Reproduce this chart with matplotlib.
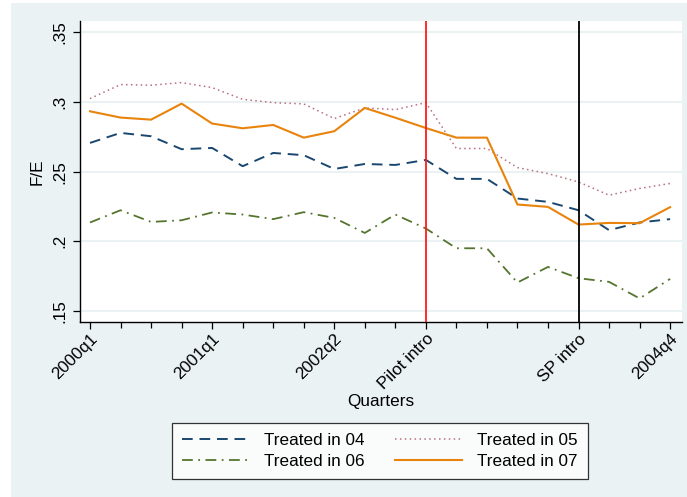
import numpy as np
import matplotlib
matplotlib.use('Agg')
import matplotlib.pyplot as plt
from matplotlib.patches import Rectangle

plt.rcParams['font.family'] = ['Liberation Sans', 'DejaVu Sans']

quarters = np.arange(20)
tick_pos = [0, 4, 8, 11, 16, 19]
tick_labels = ['2000q1', '2001q1', '2002q2', 'Pilot intro', 'SP intro', '2004q4']
pilot_q = 11
sp_q = 16

treated_04 = [0.2706, 0.2778, 0.2754, 0.2661, 0.2670, 0.2539, 0.2634, 0.2618, 0.2519, 0.2555,
              0.2548, 0.2584, 0.2448, 0.2448, 0.2307, 0.2283, 0.2223, 0.2080, 0.2135, 0.2159]
treated_05 = [0.3024, 0.3125, 0.3120, 0.3139, 0.3103, 0.3019, 0.2995, 0.2986, 0.2881, 0.2957,
              0.2945, 0.2995, 0.2666, 0.2666, 0.2529, 0.2486, 0.2426, 0.2331, 0.2379, 0.2415]
treated_06 = [0.2135, 0.2223, 0.2139, 0.2151, 0.2207, 0.2192, 0.2159, 0.2209, 0.2168, 0.2060,
              0.2192, 0.2092, 0.1950, 0.1950, 0.1704, 0.1816, 0.1735, 0.1709, 0.1590, 0.1730]
treated_07 = [0.2933, 0.2888, 0.2873, 0.2988, 0.2845, 0.2811, 0.2835, 0.2744, 0.2790, 0.2957,
              0.2887, 0.2813, 0.2744, 0.2744, 0.2264, 0.2247, 0.2120, 0.2132, 0.2130, 0.2245]

bg = '#eaf2f3'
fs = 12.3

fig = plt.figure(figsize=(6.87, 4.97), dpi=100)
fig.patch.set_facecolor('white')
fig.patches.append(Rectangle((11 / 687, 0), 1 - 11 / 687, 1 - 3 / 497,
                             transform=fig.transFigure, facecolor=bg,
                             edgecolor='none', zorder=-10))

ax = fig.add_axes([79.5 / 687, 1 - 321.7 / 497, (681.7 - 79.5) / 687, (321.7 - 21) / 497])
ax.set_facecolor('white')

l04, = ax.plot(quarters, treated_04, color='#1a476f', lw=1.4, linestyle=(0, (5.5, 3.5)), label='Treated in 04')
l05, = ax.plot(quarters, treated_05, color='#b8707e', lw=1.1, linestyle=(0, (1, 2.2)), label='Treated in 05')
l06, = ax.plot(quarters, treated_06, color='#55752f', lw=1.3, linestyle=(0, (6, 3, 1, 3)), label='Treated in 06')
l07, = ax.plot(quarters, treated_07, color='#e8830c', lw=1.5, label='Treated in 07')

ax.axvline(pilot_q, color='#ff1a1a', lw=1.3, zorder=3)
ax.axvline(sp_q, color='black', lw=1.3, zorder=3)

ax.set_xlim(-0.344, 19.38)
ax.set_ylim(0.1423, 0.3581)

yticks = [0.15, 0.2, 0.25, 0.3, 0.35]
ax.set_yticks(yticks)
ax.set_yticklabels(['.15', '.2', '.25', '.3', '.35'], rotation=90, va='center', fontsize=fs)
ax.yaxis.grid(True, color=bg, lw=1.5)
ax.set_axisbelow(True)

ax.set_xticks(tick_pos)
ax.set_xticklabels(tick_labels, rotation=45, ha='right', rotation_mode='anchor', fontsize=fs)
ax.set_xticks(quarters, minor=True)
ax.tick_params(axis='both', which='major', length=5, width=0.9, direction='out')
ax.tick_params(axis='x', which='minor', length=4, width=0.9)
ax.tick_params(axis='x', which='major', pad=2)
ax.tick_params(axis='y', which='major', pad=4)

for s in ['top', 'right']:
    ax.spines[s].set_visible(False)
for s in ['left', 'bottom']:
    ax.spines[s].set_linewidth(1.0)

ax.set_xlabel('Quarters', fontsize=fs, labelpad=1)
ax.set_ylabel('F/E', fontsize=fs, labelpad=5)

# legend fills rows: 04, 05 / 06, 07
leg = fig.legend([l04, l06, l05, l07],
                 ['Treated in 04', 'Treated in 06', 'Treated in 05', 'Treated in 07'],
                 loc='center', bbox_to_anchor=(380 / 687, 1 - 451 / 497), ncol=2,
                 fontsize=fs, frameon=True, fancybox=False, handlelength=3.9,
                 columnspacing=1.8, handletextpad=0.9, borderpad=0.6, labelspacing=0.32)
leg.get_frame().set_edgecolor('black')
leg.get_frame().set_linewidth(0.9)

fig.savefig('out.png', dpi=100, facecolor=fig.get_facecolor())
